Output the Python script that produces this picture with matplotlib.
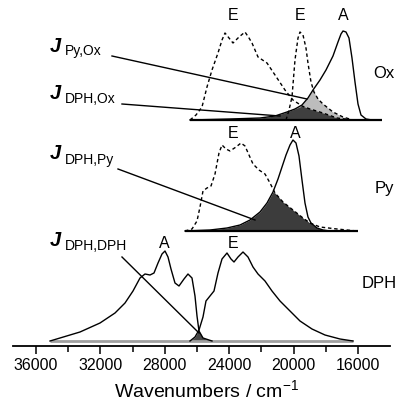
import numpy as np
import matplotlib
matplotlib.use('Agg')
from matplotlib import pyplot as plt

plt.rcParams['font.family'] = ['Liberation Sans', 'DejaVu Sans']
plt.rcParams['mathtext.fontset'] = 'custom'
plt.rcParams['mathtext.rm'] = 'Liberation Sans'
plt.rcParams['mathtext.it'] = 'Liberation Sans:italic'

#------------------------------------------------------------------------------
# spectra: wavenumber (cm-1) and intensity (arb. units)

# DPH panel
dph_abs_wn = [35130, 34509, 33267, 32025, 31093, 30472, 29975, 29540, 29230, 28919,
              28671, 28422, 28174, 27988, 27801, 27615, 27367, 27118, 26808, 26560,
              26311, 26125, 26000, 25876, 25628, 25069]
dph_abs_int = [0, 3, 9, 18, 28, 38, 50, 63, 67, 66,
               68, 78, 87, 90, 84, 72, 58, 55, 62, 67,
               63, 45, 25, 10, 3, 0]
dph_em_wn = [26435, 26125, 25876, 25628, 25442, 25193, 24944, 24696, 24447, 24137,
             23888, 23702, 23454, 23143, 22833, 22522, 22211, 21777, 21342, 20845,
             20224, 19603, 18858, 18051, 17119, 16311]
dph_em_int = [0, 4, 11, 24, 40, 45, 50, 68, 82, 88,
              82, 79, 84, 89, 84, 74, 67, 60, 50, 40,
              30, 20, 12, 6, 2, 0]

# Py panel: DPH emission (dotted) and Py absorption
py_dphem_wn = [26745, 26311, 26000, 25814, 25628, 25380, 25131, 24882, 24634, 24447,
               24199, 23950, 23578, 23267, 23019, 22770, 22522, 22149, 21777, 21466,
               21155, 20659, 20038, 19417, 18982, 18361, 17305, 16063]
py_dphem_int = [0, 2, 10, 24, 40, 43, 45, 57, 78, 86,
                82, 80, 84, 88, 85, 76, 67, 61, 57, 48,
                38, 29, 21, 13, 8, 4, 2, 0]
py_abs_wn = [26745, 25193, 24137, 23329, 22708, 22087, 21652, 21280, 20969, 20721,
             20472, 20224, 20038, 19851, 19665, 19479, 19293, 19107, 18920, 18547,
             18175, 17740]
py_abs_int = [0, 1, 3, 6, 11, 19, 28, 39, 52, 64,
              76, 86, 91, 88, 75, 51, 28, 14, 8, 3,
              1, 0]

# Ox panel: DPH emission, Py emission (both dotted) and Ox absorption
ox_dphem_wn = [26435, 26063, 25690, 25380, 25069, 24696, 24447, 24261, 24013, 23764,
               23391, 23019, 22770, 22584, 22211, 21652, 21031, 20535, 20038, 19479,
               18982, 18175, 17305, 16311]
ox_dphem_int = [0, 5, 13, 33, 50, 67, 80, 87, 82, 77,
                83, 88, 82, 77, 63, 57, 42, 30, 20, 14,
                11, 7, 2, 0]
ox_pyem_wn = [20472, 20286, 20100, 19914, 19727, 19603, 19417, 19231, 19107, 18920,
              18734, 18485, 18175, 17554, 16933, 16311]
ox_pyem_int = [0, 10, 23, 60, 82, 88, 85, 72, 57, 38,
               28, 21, 16, 8, 3, 0]
ox_abs_wn = [26435, 23950, 22087, 21155, 20410, 19914, 19479, 19107, 18796, 18361,
             17988, 17554, 17243, 17056, 16932, 16746, 16560, 16373, 16187, 16000,
             15814, 15503, 15130]
ox_abs_int = [0, 1, 2, 4, 8, 11, 15, 22, 30, 40,
              50, 64, 78, 86, 89, 88, 82, 62, 38, 16,
              5, 1, 0]

# baseline extents of each panel
dph_base = (35130, 16311)
py_base = (26745, 16000)
ox_base = (26435, 14510)

# vertical offsets of the stacked panels
off_dph, off_py, off_ox = 5, 115, 226

major_ticks = [36000, 32000, 28000, 24000, 20000, 16000]
minor_ticks = [34000, 30000, 26000, 22000, 18000]

#------------------------------------------------------------------------------

def overlap(wn1, i1, wn2, i2):
    # pointwise minimum of two spectra on the union of their wavenumbers
    grid = np.unique(np.concatenate([wn1, wn2]))
    a = np.interp(grid, wn1[::-1], i1[::-1], left=0, right=0)
    b = np.interp(grid, wn2[::-1], i2[::-1], left=0, right=0)
    return grid, np.minimum(a, b)

arr = lambda v: np.array(v, dtype=float)

fig = plt.figure(figsize=(4.04, 4.0), dpi=100)
ax = fig.add_axes([0, 54/400, 1, 346/400])

solid = dict(color='black', lw=1.0)
dotted = dict(color='black', lw=1.0, ls=(0, (2.5, 2)))

# DPH panel
g, m = overlap(arr(dph_abs_wn), arr(dph_abs_int), arr(dph_em_wn), arr(dph_em_int))
ax.fill_between(g, off_dph, off_dph + m, color='#474747', lw=0)
ax.plot(dph_base, [off_dph, off_dph], color='#a0a0a0', lw=2.0, solid_capstyle='butt')
ax.plot(dph_abs_wn, off_dph + arr(dph_abs_int), **solid)
ax.plot(dph_em_wn, off_dph + arr(dph_em_int), **solid)

# Py panel
g, m = overlap(arr(py_abs_wn), arr(py_abs_int), arr(py_dphem_wn), arr(py_dphem_int))
ax.fill_between(g, off_py, off_py + m, color='#3c3c3c', lw=0)
ax.plot(py_base, [off_py, off_py], color='black', lw=1.6, solid_capstyle='butt')
ax.plot(py_abs_wn, off_py + arr(py_abs_int), **solid)
ax.plot(py_dphem_wn, off_py + arr(py_dphem_int), **dotted)

# Ox panel
g, m = overlap(arr(ox_abs_wn), arr(ox_abs_int), arr(ox_pyem_wn), arr(ox_pyem_int))
ax.fill_between(g, off_ox, off_ox + m, color='#bcbcbc', lw=0)
g, m = overlap(arr(ox_abs_wn), arr(ox_abs_int), arr(ox_dphem_wn), arr(ox_dphem_int))
ax.fill_between(g, off_ox, off_ox + m, color='#3f3f3f', lw=0)
ax.plot(ox_base, [off_ox, off_ox], color='black', lw=1.6, solid_capstyle='butt')
ax.plot(ox_abs_wn, off_ox + arr(ox_abs_int), **solid)
ax.plot(ox_dphem_wn, off_ox + arr(ox_dphem_int), **dotted)
ax.plot(ox_pyem_wn, off_ox + arr(ox_pyem_int), **dotted)

# peak and panel labels
lab = dict(fontsize=11.5, ha='center', va='center')
for wn, y, s in [(23764, 331, 'E'), (19603, 331, 'E'), (16932, 331, 'A'),
                 (23764, 213, 'E'), (19914, 213, 'A'),
                 (28050, 103, 'A'), (23764, 103, 'E')]:
    ax.text(wn, y, s, **lab)
ax.text(14380, 273, 'Ox', fontsize=12, ha='center', va='center')
ax.text(14380, 158, 'Py', fontsize=12, ha='center', va='center')
ax.text(14690, 62, 'DPH', fontsize=12, ha='center', va='center')

# J labels with pointer lines into the shaded overlap areas
jlabels = [('Py,Ox', 294, 291, (31280, 290), (19169, off_ox + 21)),
           ('DPH,Ox', 247, 243, (30659, 242), (20845, off_ox + 4)),
           ('DPH,Py', 187, 182, (30907, 177), (22397, off_py + 11)),
           ('DPH,DPH', 100, 96, (30659, 89), (25876, off_dph + 8))]
for sub, yj, ys, start, end in jlabels:
    ax.text(35130, yj, 'J', fontsize=14.5, fontstyle='italic', fontweight='bold',
            ha='left', va='baseline')
    ax.text(34200, ys, sub, fontsize=10, ha='left', va='baseline')
    ax.plot([start[0], end[0]], [start[1], end[1]], color='black', lw=1.0)

ax.set_xlim(38236, 13143)
ax.set_ylim(0, 346)
for s in ['left', 'right', 'top']:
    ax.spines[s].set_visible(False)
ax.spines['bottom'].set_bounds(37430, 14000)
ax.spines['bottom'].set_linewidth(1.3)
ax.set_yticks([])
ax.set_xticks(major_ticks)
ax.set_xticklabels([str(t) for t in major_ticks], fontsize=11.5)
ax.set_xticks(minor_ticks, minor=True)
ax.tick_params(axis='x', which='major', direction='out', length=5.5, width=1.1, pad=3)
ax.tick_params(axis='x', which='minor', direction='out', length=4.5, width=1.1)
ax.set_xlabel('Wavenumbers / cm$^{-1}$', fontsize=14)
ax.xaxis.set_label_coords(0.512, -0.095)
ax.patch.set_alpha(0)

fig.savefig('out.png', dpi=100)
